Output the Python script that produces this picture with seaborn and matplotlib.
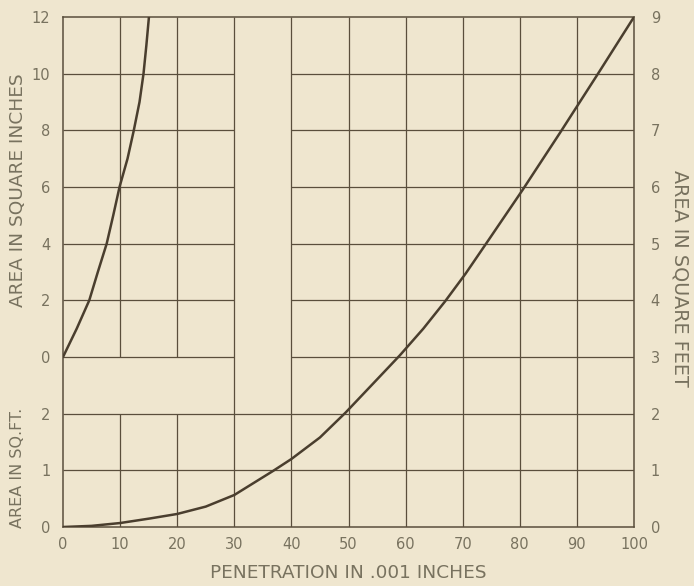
import matplotlib
matplotlib.use("Agg")
import matplotlib.pyplot as plt
import seaborn as sns
import pandas as pd

# Lower curve: area in square feet vs penetration (.001 in)
pen_ft = [0, 5, 10, 15.2, 20, 25, 30, 36.8, 40, 45, 49.5, 54.3, 59, 63.1, 66.9,
          70.5, 74.5, 80.5, 87, 93.7, 100]
area_ft = [0, 0.02, 0.07, 0.15, 0.23, 0.36, 0.565, 0.99, 1.2, 1.58, 2.02, 2.53, 3.03, 3.5, 3.98,
           4.47, 5.06, 5.95, 6.95, 8.0, 9.0]

# Upper-left curve: area in square inches vs penetration
pen_in = [0, 2.4, 4.6, 6.1, 7.65, 8.8, 9.9, 11.3, 12.4, 13.4, 14.1, 14.6, 15.05]
area_in = [0, 1.0, 2.0, 3.0, 4.0, 5.0, 6.0, 7.0, 8.0, 9.0, 10.0, 11.0, 12.0]

x_ticks = [0, 10, 20, 30, 40, 50, 60, 70, 80, 90, 100]
right_ticks = [0, 1, 2, 3, 4, 5, 6, 7, 8, 9]
left_lower_ticks = [0, 1, 2]
left_upper_ticks = [0, 2, 4, 6, 8, 10, 12]

BG = "#efe6cf"
INK = "#5a4e3c"
TXT = "#78725f"

sns.set_theme(style="white")
plt.rcParams['font.family'] = ['DejaVu Sans']

fig = plt.figure(figsize=(6.94, 5.86), dpi=100, facecolor=BG)
ax = fig.add_axes([63/694, 1-527/586, (634-63)/694, (527-17)/586])
ax.set_facecolor(BG)
ax.set_xlim(0, 100)
ax.set_ylim(0, 9)

# grid (drawn manually to leave the blank L-shaped gutter)
gkw = dict(color=INK, lw=0.9, zorder=1)
for xv in [10, 20]:
    ax.vlines(xv, 0, 2, **gkw)
    ax.vlines(xv, 3, 9, **gkw)
for xv in [30, 40, 50, 60, 70, 80, 90]:
    ax.vlines(xv, 0, 9, **gkw)
for yv in [1, 2]:
    ax.hlines(yv, 0, 100, **gkw)
for yv in [3, 4, 5, 6, 7, 8]:
    ax.hlines(yv, 0, 30, **gkw)
    ax.hlines(yv, 40, 100, **gkw)

df_ft = pd.DataFrame({"pen": pen_ft, "area": area_ft})
df_in = pd.DataFrame({"pen": pen_in, "y": [3 + a / 2 for a in area_in]})
sns.lineplot(data=df_ft, x="pen", y="area", ax=ax, color="#4a3e2e", lw=1.8, zorder=3)
sns.lineplot(data=df_in, x="pen", y="y", ax=ax, color="#4a3e2e", lw=1.8, zorder=3)

for s in ax.spines.values():
    s.set_color(INK)
    s.set_linewidth(1.1)

ax.set_xticks(x_ticks)
ax.set_xticklabels([str(v) for v in x_ticks])
lt_pos = left_lower_ticks + [3 + v / 2 for v in left_upper_ticks]
lt_lab = [str(v) for v in left_lower_ticks] + [str(v) for v in left_upper_ticks]
ax.set_yticks(lt_pos)
ax.set_yticklabels(lt_lab)
ax.tick_params(axis="both", length=0, labelsize=10.5, colors=TXT)
ax.tick_params(axis="y", pad=9)
ax.tick_params(axis="x", pad=7)
ax.set_xlabel("PENETRATION IN .001 INCHES", fontsize=13.3, color=TXT, labelpad=9)
ax.set_ylabel("")

ax2 = ax.twinx()
ax2.set_ylim(0, 9)
ax2.set_yticks(right_ticks)
ax2.set_yticklabels([str(v) for v in right_ticks])
ax2.tick_params(axis="y", length=0, labelsize=10.5, colors=TXT, pad=12)
for s in ax2.spines.values():
    s.set_visible(False)
ax2.grid(False)

fig.text(18/694, 1-190/586, "AREA IN SQUARE INCHES", rotation=90, ha="center", va="center",
         fontsize=13.3, color=TXT)
fig.text(18/694, 1-468/586, "AREA IN SQ.FT.", rotation=90, ha="center", va="center",
         fontsize=11.5, color=TXT)
fig.text(680/694, 1-278/586, "AREA IN SQUARE FEET", rotation=-90, ha="center", va="center",
         fontsize=13.8, color=TXT)

fig.savefig("out.png", dpi=100, facecolor=BG)
